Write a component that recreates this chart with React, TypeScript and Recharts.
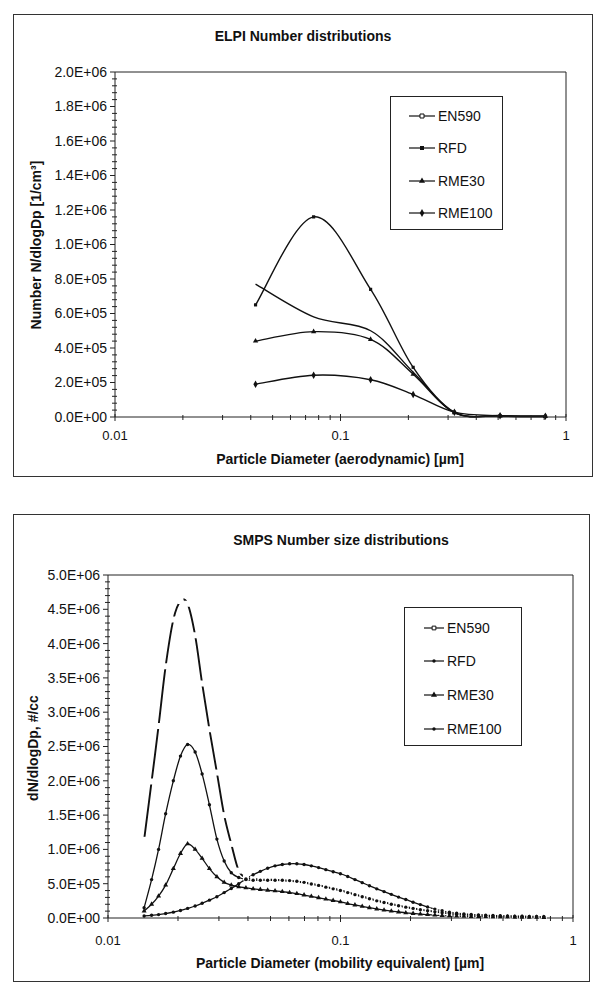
import React from "react";
import {
  LineChart,
  Line,
  XAxis,
  YAxis,
  ReferenceLine,
  Legend,
  Symbols,
} from "recharts";

// ---- ELPI (top panel): stage mid diameters [µm] and N/dlogDp [1/cm³]
const elpiSizes = [0.042, 0.076, 0.136, 0.21, 0.32, 0.51, 0.81];
const elpiEN590 = [770000, 580000, 500000, 260000, 25000, 6000, 3000];
const elpiRFD = [650000, 1160000, 740000, 288000, 28000, 8000, 4000];
const elpiRME30 = [440000, 495000, 450000, 248000, 25000, 6000, 3000];
const elpiRME100 = [190000, 242000, 216000, 130000, 28000, 7000, 4000];

// ---- SMPS (bottom panel): mobility diameters [µm] and dN/dlogDp [#/cc]
const smpsSizes = [
  0.0143, 0.0154, 0.0165, 0.0177, 0.0191, 0.0205, 0.022, 0.0237, 0.0254, 0.0273,
  0.0294, 0.0316, 0.0339, 0.0365, 0.0392, 0.0421, 0.0452, 0.0486, 0.0523, 0.0562,
  0.0604, 0.0649, 0.0697, 0.0749, 0.0805, 0.0865, 0.093, 0.0999, 0.1074, 0.1154,
  0.124, 0.1332, 0.1432, 0.1539, 0.1654, 0.1777, 0.1909, 0.2052, 0.2205, 0.2369,
  0.2546, 0.2736, 0.294, 0.3159, 0.3395, 0.3648, 0.392, 0.4213, 0.4527, 0.4865,
  0.5228, 0.5618, 0.6037, 0.6487, 0.6971, 0.7491,
];
const smpsEN590 = [
  1140000, 1990000, 2800000, 3670000, 4350000, 4620000, 4580000, 4120000, 3420000, 2750000,
  2120000, 1500000, 1080000, 690000, 590000, 570000, 560000, 560000, 555000, 550000,
  540000, 530000, 515000, 500000, 480000, 455000, 430000, 405000, 375000, 345000,
  315000, 285000, 255000, 230000, 205000, 182000, 160000, 142000, 122000, 106000,
  92000, 78000, 66000, 56000, 49000, 43000, 38000, 33000, 29000, 26000,
  23000, 21000, 19000, 17000, 16000, 15000,
];
const smpsRFD = [
  150000, 560000, 1000000, 1520000, 2000000, 2360000, 2530000, 2420000, 2100000, 1650000,
  1150000, 830000, 660000, 590000, 560000, 550000, 550000, 550000, 550000, 550000,
  545000, 535000, 520000, 495000, 475000, 450000, 425000, 400000, 370000, 340000,
  310000, 280000, 250000, 225000, 200000, 178000, 158000, 140000, 120000, 105000,
  90000, 75000, 65000, 55000, 48000, 42000, 37000, 32000, 28000, 25000,
  22000, 20000, 18000, 16000, 15000, 14000,
];
const smpsRME30 = [
  100000, 200000, 320000, 480000, 720000, 940000, 1080000, 1000000, 870000, 720000,
  600000, 520000, 480000, 455000, 440000, 425000, 415000, 405000, 395000, 385000,
  370000, 355000, 335000, 315000, 295000, 275000, 255000, 235000, 210000, 190000,
  170000, 150000, 132000, 115000, 100000, 88000, 76000, 66000, 57000, 49000,
  42000, 36000, 31000, 27000, 24000, 21000, 19000, 17000, 15000, 14000,
  13000, 12000, 11000, 10000, 9000, 8000,
];
const smpsRME100 = [
  30000, 40000, 50000, 65000, 85000, 110000, 140000, 175000, 215000, 260000,
  310000, 370000, 430000, 500000, 570000, 630000, 680000, 725000, 760000, 780000,
  790000, 790000, 780000, 760000, 735000, 705000, 675000, 645000, 605000, 560000,
  515000, 470000, 425000, 385000, 345000, 305000, 270000, 230000, 195000, 160000,
  130000, 105000, 85000, 70000, 60000, 52000, 46000, 41000, 37000, 33000,
  30000, 27000, 25000, 23000, 21000, 20000,
];

// ---- axis ticks
const xMajor = [0.01, 0.1, 1];
const xMinor = [
  0.02, 0.03, 0.04, 0.05, 0.06, 0.07, 0.08, 0.09,
  0.2, 0.3, 0.4, 0.5, 0.6, 0.7, 0.8, 0.9,
];
const elpiYMajor = [
  0, 200000, 400000, 600000, 800000, 1000000, 1200000, 1400000, 1600000, 1800000, 2000000,
];
const smpsYMajor = [
  0, 500000, 1000000, 1500000, 2000000, 2500000, 3000000, 3500000, 4000000, 4500000, 5000000,
];

const FONT = '"Liberation Sans", Arial, sans-serif';
const INK = "#111";

const elpiData = elpiSizes.map((d, i) => ({
  d,
  EN590: elpiEN590[i],
  RFD: elpiRFD[i],
  RME30: elpiRME30[i],
  RME100: elpiRME100[i],
}));

const smpsData = smpsSizes.map((d, i) => ({
  d,
  EN590: smpsEN590[i],
  RFD: smpsRFD[i],
  RME30: smpsRME30[i],
  RME100: smpsRME100[i],
}));

// Excel style smoothed line (Catmull-Rom as cubic bezier)
function excelSmooth(context: any) {
  let pts: number[][] = [];
  return {
    areaStart() {},
    areaEnd() {},
    lineStart() {
      pts = [];
    },
    point(x: number, y: number) {
      pts.push([+x, +y]);
    },
    lineEnd() {
      const n = pts.length;
      if (!n) return;
      context.moveTo(pts[0][0], pts[0][1]);
      for (let i = 0; i < n - 1; i++) {
        const p0 = pts[i - 1] || pts[i];
        const p1 = pts[i];
        const p2 = pts[i + 1];
        const p3 = pts[i + 2] || p2;
        context.bezierCurveTo(
          p1[0] + (p2[0] - p0[0]) / 6,
          p1[1] + (p2[1] - p0[1]) / 6,
          p2[0] - (p3[0] - p1[0]) / 6,
          p2[1] - (p3[1] - p1[1]) / 6,
          p2[0],
          p2[1]
        );
      }
    },
  };
}

const fmtExp = (v: number) => {
  const [m, e] = v.toExponential(1).split("e");
  const sign = e[0] === "-" ? "-" : "+";
  return `${m}E${sign}${e.replace(/[+-]/, "").padStart(2, "0")}`;
};

// majors plus four minor ticks between each pair
const withMinor = (majors: number[]) =>
  majors.flatMap((m, i) =>
    i === 0
      ? [m]
      : [1, 2, 3, 4].map((k) => majors[i - 1] + ((m - majors[i - 1]) * k) / 5).concat(m)
  );

type Marker = "none" | "openSquare" | "whiteSquare" | "square" | "triangle" | "diamond" | "dot";

function drawMarker(kind: Marker, cx: number, cy: number, size: number, key?: any) {
  switch (kind) {
    case "openSquare":
      return <Symbols key={key} cx={cx} cy={cy} type="square" size={size} fill="#fff" stroke={INK} strokeWidth={1} />;
    case "whiteSquare":
      return <Symbols key={key} cx={cx} cy={cy} type="square" size={size} fill="#fff" stroke="none" />;
    case "square":
      return <Symbols key={key} cx={cx} cy={cy} type="square" size={size} fill={INK} />;
    case "triangle":
      return <Symbols key={key} cx={cx} cy={cy} type="triangle" size={size} fill={INK} />;
    case "diamond":
      return <Symbols key={key} cx={cx} cy={cy} type="diamond" size={size} fill={INK} />;
    case "dot":
      return <Symbols key={key} cx={cx} cy={cy} type="circle" size={size} fill={INK} />;
    default:
      return <g key={key} />;
  }
}

interface SeriesCfg {
  key: string;
  plot: Marker;
  plotSize: number;
  legend: Marker;
  legendSize: number;
  width: number;
}

interface PanelCfg {
  box: { left: number; top: number; width: number; height: number };
  margin: { top: number; right: number; left: number; bottom: number };
  yWidth: number;
  xHeight: number;
  yMajor: number[];
  data: any[];
  series: SeriesCfg[];
  legend: { left: number; top: number; width: number; height: number; rows: number[]; line: number[]; textX: number };
  title: { text: string; x: number; y: number };
  xTitle: { text: string; x: number; y: number };
  yTitle: { text: string; x: number; y: number };
  xLabelGap: number;
  yLabelGap: number;
}

const elpiSeries: SeriesCfg[] = [
  { key: "EN590", plot: "none", plotSize: 0, legend: "openSquare", legendSize: 16, width: 1.4 },
  { key: "RFD", plot: "square", plotSize: 10, legend: "square", legendSize: 16, width: 1.4 },
  { key: "RME30", plot: "triangle", plotSize: 12, legend: "triangle", legendSize: 16, width: 1.4 },
  { key: "RME100", plot: "diamond", plotSize: 16, legend: "diamond", legendSize: 18, width: 1.4 },
];

const smpsSeries: SeriesCfg[] = [
  { key: "EN590", plot: "whiteSquare", plotSize: 36, legend: "openSquare", legendSize: 14, width: 1.9 },
  { key: "RFD", plot: "dot", plotSize: 9, legend: "dot", legendSize: 9, width: 1.3 },
  { key: "RME30", plot: "triangle", plotSize: 11, legend: "triangle", legendSize: 16, width: 1.3 },
  { key: "RME100", plot: "dot", plotSize: 9, legend: "dot", legendSize: 9, width: 1.3 },
];

const elpiCfg: PanelCfg = {
  box: { left: 13, top: 14, width: 580, height: 463 },
  margin: { top: 58, right: 27, left: 0, bottom: 0 },
  yWidth: 102,
  xHeight: 60,
  yMajor: elpiYMajor,
  data: elpiData,
  series: elpiSeries,
  legend: { left: 377, top: 82, width: 113, height: 134, rows: [19, 51, 84, 116], line: [18, 44], textX: 47 },
  title: { text: "ELPI Number distributions", x: 303, y: 36 },
  xTitle: { text: "Particle Diameter (aerodynamic) [µm]", x: 340, y: 459 },
  yTitle: { text: "Number N/dlogDp [1/cm³]", x: 36, y: 245 },
  xLabelGap: 18,
  yLabelGap: 8,
};

const smpsCfg: PanelCfg = {
  box: { left: 13, top: 514, width: 577, height: 468 },
  margin: { top: 61, right: 17, left: 0, bottom: 0 },
  yWidth: 95,
  xHeight: 64,
  yMajor: smpsYMajor,
  data: smpsData,
  series: smpsSeries,
  legend: { left: 391, top: 93, width: 118, height: 139, rows: [20, 53, 87, 121], line: [19, 39], textX: 42 },
  title: { text: "SMPS Number size distributions", x: 341, y: 540 },
  xTitle: { text: "Particle Diameter (mobility equivalent) [µm]", x: 340, y: 963 },
  yTitle: { text: "dN/dlogDp, #/cc", x: 33, y: 748 },
  xLabelGap: 22,
  yLabelGap: 8,
};

function Label({ text, x, y, rotate }: { text: string; x: number; y: number; rotate?: boolean }) {
  return (
    <div
      style={{
        position: "absolute",
        left: x,
        top: y,
        transform: `translate(-50%, -50%)${rotate ? " rotate(-90deg)" : ""}`,
        whiteSpace: "nowrap",
        fontFamily: FONT,
        fontWeight: 700,
        fontSize: 14,
        color: INK,
      }}
    >
      {text}
    </div>
  );
}

function Panel({ cfg }: { cfg: PanelCfg }) {
  const { box, legend } = cfg;
  const yTicks = withMinor(cfg.yMajor);
  const yMax = cfg.yMajor[cfg.yMajor.length - 1];

  const xTick = (p: any) => {
    const v = p.payload.value;
    const major = xMajor.includes(v);
    return (
      <g>
        <line x1={p.x} x2={p.x} y1={p.y - (major ? 3 : 2)} y2={p.y + (major ? 4 : 3)} stroke="#222" />
        {major && (
          <text x={p.x} y={p.y + cfg.xLabelGap} dy="0.35em" textAnchor="middle" fontFamily={FONT} fontSize={13} fill={INK}>
            {String(v)}
          </text>
        )}
      </g>
    );
  };

  const yTick = (p: any) => {
    const v = p.payload.value;
    const major = cfg.yMajor.includes(v);
    return (
      <g>
        <line x1={p.x - (major ? 5 : 3)} x2={p.x + (major ? 0 : 2)} y1={p.y} y2={p.y} stroke="#222" />
        {major && (
          <text x={p.x - cfg.yLabelGap} y={p.y} dy="0.35em" textAnchor="end" fontFamily={FONT} fontSize={14} fill={INK}>
            {fmtExp(v)}
          </text>
        )}
      </g>
    );
  };

  const legendContent = () => (
    <div
      style={{
        position: "relative",
        width: legend.width,
        height: legend.height,
        boxSizing: "border-box",
        border: "1.5px solid #222",
        background: "#fff",
      }}
    >
      {cfg.series.map((s, i) => (
        <div key={s.key}>
          <svg
            width={legend.line[1] + 2}
            height={12}
            style={{ position: "absolute", left: 0, top: legend.rows[i] - 6 }}
          >
            <line x1={legend.line[0]} x2={legend.line[1]} y1={6} y2={6} stroke={INK} strokeWidth={1.2} />
            {drawMarker(s.legend, (legend.line[0] + legend.line[1]) / 2, 6, s.legendSize)}
          </svg>
          <span
            style={{
              position: "absolute",
              left: legend.textX,
              top: legend.rows[i],
              transform: "translateY(-50%)",
              fontFamily: FONT,
              fontSize: 14,
              color: INK,
              lineHeight: 1,
            }}
          >
            {s.key}
          </span>
        </div>
      ))}
    </div>
  );

  return (
    <>
      <div
        style={{
          position: "absolute",
          left: box.left,
          top: box.top,
          width: box.width,
          height: box.height,
          boxSizing: "border-box",
          border: "1.5px solid #333",
        }}
      />
      <div style={{ position: "absolute", left: box.left, top: box.top }}>
        <LineChart width={box.width} height={box.height} data={cfg.data} margin={cfg.margin}>
          <XAxis
            dataKey="d"
            type="number"
            scale="log"
            domain={[0.01, 1]}
            allowDataOverflow
            ticks={[...xMajor, ...xMinor]}
            interval={0}
            tickSize={0}
            tickMargin={0}
            tickLine={false}
            tick={xTick}
            axisLine={{ stroke: "#222" }}
            height={cfg.xHeight}
          />
          <YAxis
            type="number"
            domain={[0, yMax]}
            ticks={yTicks}
            interval={0}
            tickSize={0}
            tickMargin={0}
            tickLine={false}
            tick={yTick}
            axisLine={{ stroke: "#222" }}
            width={cfg.yWidth}
          />
          <ReferenceLine y={yMax} stroke="#222" />
          <ReferenceLine x={1} stroke="#222" />
          {cfg.series.map((s) => (
            <Line
              key={s.key}
              dataKey={s.key}
              type={excelSmooth as any}
              stroke={INK}
              strokeWidth={s.width}
              dot={(p: any) => drawMarker(s.plot, p.cx, p.cy, s.plotSize, `${s.key}-${p.index}`)}
              activeDot={false}
              isAnimationActive={false}
            />
          ))}
          <Legend
            layout="vertical"
            align="center"
            verticalAlign="middle"
            content={legendContent}
            wrapperStyle={{ left: legend.left, top: legend.top, width: legend.width, height: legend.height }}
          />
        </LineChart>
      </div>
      <Label {...cfg.title} />
      <Label {...cfg.xTitle} />
      <Label {...cfg.yTitle} rotate />
    </>
  );
}

export default function App() {
  return (
    <div
      style={{
        position: "absolute",
        left: 0,
        top: 0,
        width: 600,
        height: 996,
        background: "#fff",
        overflow: "hidden",
      }}
    >
      <Panel cfg={elpiCfg} />
      <Panel cfg={smpsCfg} />
    </div>
  );
}
